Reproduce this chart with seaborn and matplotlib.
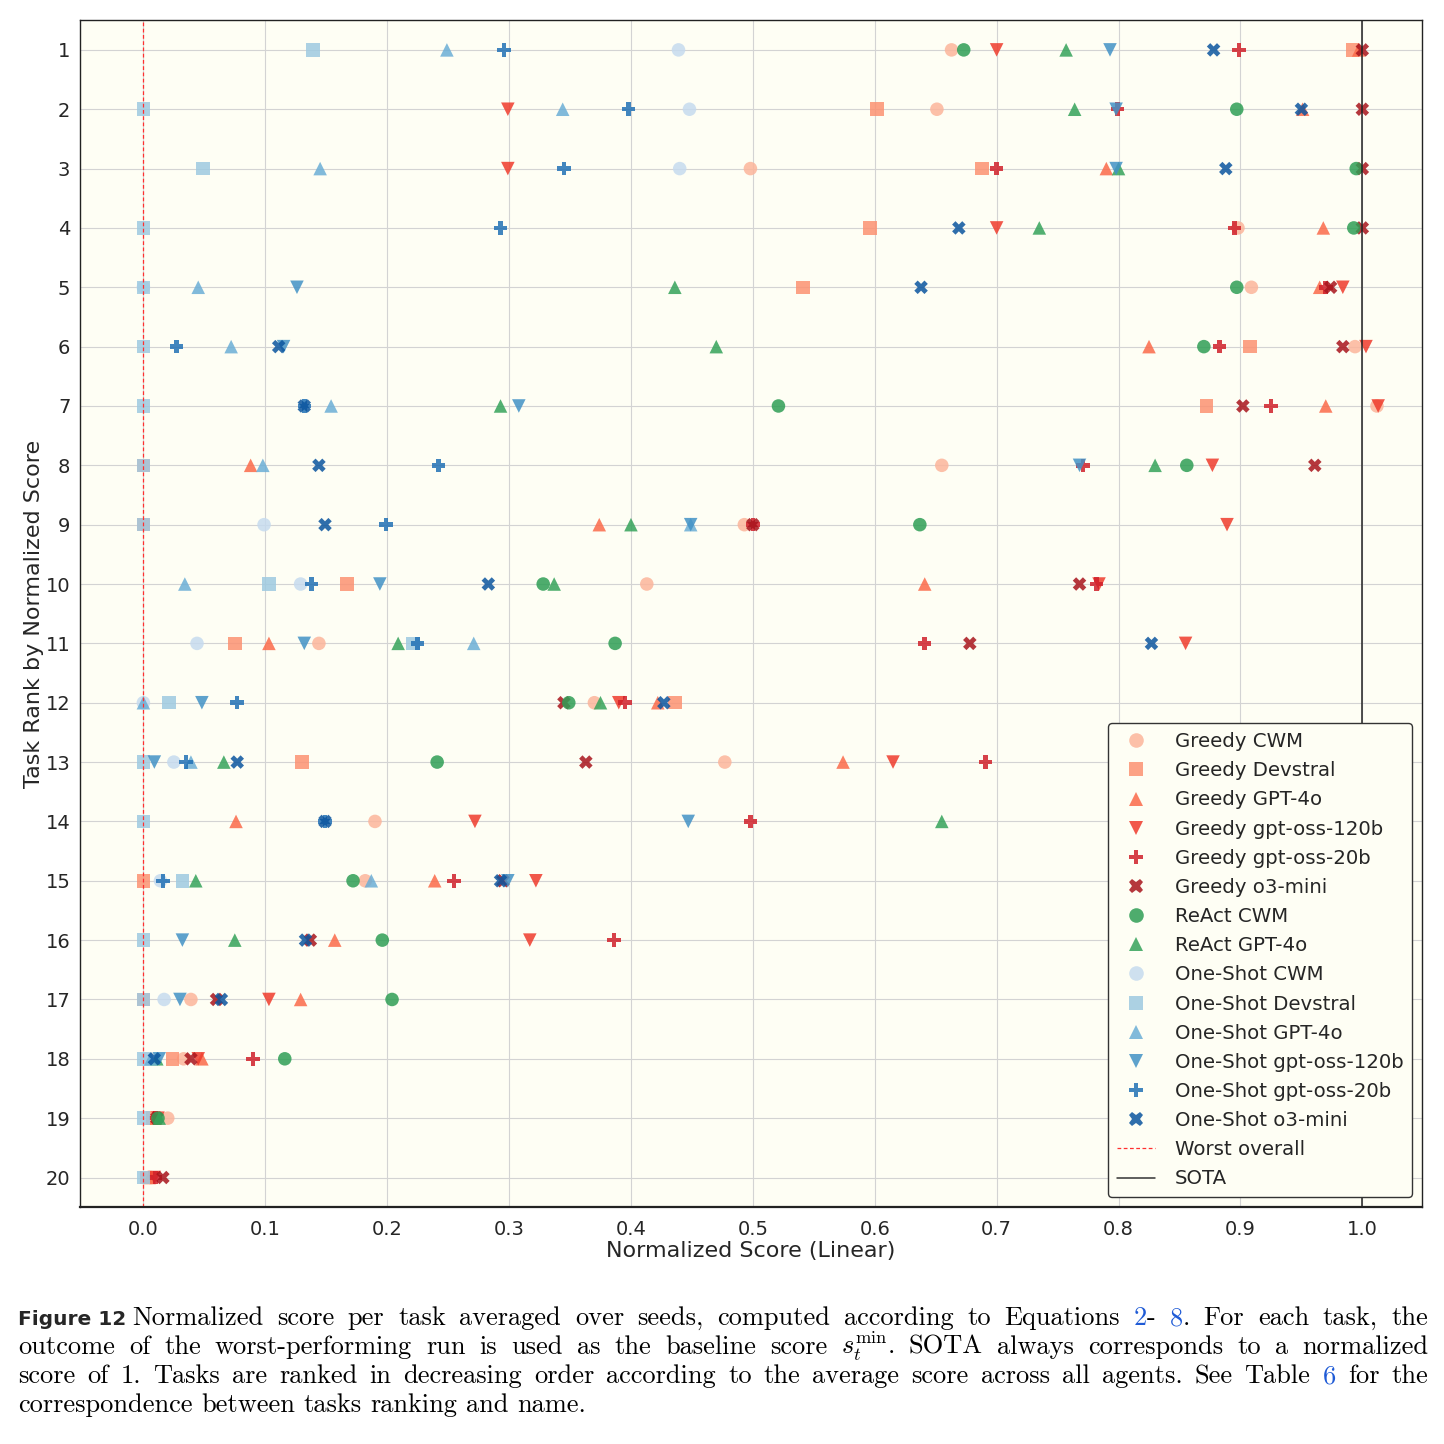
import numpy as np
import pandas as pd
import seaborn as sns
import matplotlib
matplotlib.use('Agg')
import matplotlib.pyplot as plt
from matplotlib.lines import Line2D

nan = np.nan
ranks = list(range(1, 21))

# normalized score per task (rank 1..20); nan = no point shown
greedy_cwm = [0.663, 0.651, 0.498, 0.898, 0.909, 0.994, 1.012, 0.655, 0.493, 0.413, 0.144, 0.370, 0.477, 0.190, 0.182, nan, 0.039, 0.033, 0.020, 0.006]
greedy_devstral = [0.992, 0.602, 0.688, 0.596, 0.541, 0.908, 0.872, 0.0, 0.0, 0.167, 0.075, 0.436, 0.130, nan, 0.0, nan, 0.0, 0.024, 0.008, 0.003]
greedy_gpt4o = [0.997, 0.951, 0.790, 0.968, 0.965, 0.825, 0.970, 0.088, 0.374, 0.641, 0.103, 0.422, 0.574, 0.076, 0.239, 0.157, 0.129, 0.048, 0.010, 0.005]
greedy_120b = [0.700, 0.299, 0.299, 0.700, 0.984, 1.003, 1.013, 0.877, 0.889, 0.784, 0.855, 0.390, 0.615, 0.272, 0.322, 0.317, 0.103, 0.045, 0.012, 0.009]
greedy_20b = [0.899, 0.799, 0.700, 0.895, 0.970, 0.883, 0.925, 0.771, 0.500, 0.782, 0.641, 0.395, 0.691, 0.498, 0.255, 0.386, nan, 0.090, 0.010, 0.010]
greedy_o3 = [1.0, 1.0, 1.0, 1.0, 0.974, 0.984, 0.902, 0.961, 0.500, 0.768, 0.678, 0.345, 0.363, nan, 0.295, 0.137, 0.060, 0.039, 0.011, 0.016]
react_cwm = [0.673, 0.897, 0.995, 0.993, 0.897, 0.870, 0.521, 0.856, 0.637, 0.328, 0.387, 0.349, 0.241, nan, 0.172, 0.196, 0.204, 0.116, 0.012, nan]
react_gpt4o = [0.757, 0.764, 0.800, 0.735, 0.436, 0.470, 0.293, 0.830, 0.400, 0.337, 0.209, 0.375, 0.066, 0.655, 0.043, 0.075, nan, 0.011, 0.013, nan]
os_cwm = [0.439, 0.448, 0.440, nan, 0.0, nan, nan, nan, 0.099, 0.129, 0.044, 0.0, 0.025, nan, 0.014, nan, 0.017, 0.003, nan, nan]
os_devstral = [0.139, 0.0, 0.049, 0.0, 0.0, 0.0, 0.0, 0.0, 0.0, 0.103, 0.221, 0.021, 0.0, 0.0, 0.032, 0.0, 0.0, 0.0, 0.0, 0.0]
os_gpt4o = [0.249, 0.344, 0.145, nan, 0.045, 0.072, 0.154, 0.098, 0.449, 0.034, 0.271, 0.0, 0.039, nan, 0.187, nan, nan, 0.006, nan, nan]
os_120b = [0.793, 0.798, 0.798, nan, 0.126, 0.115, 0.308, 0.768, 0.449, 0.194, 0.132, 0.048, 0.009, 0.447, 0.299, 0.032, 0.030, 0.013, nan, nan]
os_20b = [0.296, 0.398, 0.345, 0.293, nan, 0.027, 0.132, 0.242, 0.199, 0.138, 0.225, 0.077, 0.035, 0.149, 0.016, nan, nan, nan, nan, nan]
os_o3 = [0.878, 0.950, 0.888, 0.669, 0.638, 0.111, 0.132, 0.144, 0.149, 0.283, 0.827, 0.427, 0.077, 0.149, 0.293, 0.133, 0.064, 0.009, nan, nan]

series = [
    ("Greedy CWM", greedy_cwm, "#fcb59b", "o"),
    ("Greedy Devstral", greedy_devstral, "#fc9272", "s"),
    ("Greedy GPT-4o", greedy_gpt4o, "#fb6a4a", "^"),
    ("Greedy gpt-oss-120b", greedy_120b, "#ef3b2c", "v"),
    ("Greedy gpt-oss-20b", greedy_20b, "#d0202a", "P"),
    ("Greedy o3-mini", greedy_o3, "#a8141c", "X"),
    ("ReAct CWM", react_cwm, "#2f9e55", "o"),
    ("ReAct GPT-4o", react_gpt4o, "#35a35a", "^"),
    ("One-Shot CWM", os_cwm, "#c6dbef", "o"),
    ("One-Shot Devstral", os_devstral, "#9ecae1", "s"),
    ("One-Shot GPT-4o", os_gpt4o, "#6baed6", "^"),
    ("One-Shot gpt-oss-120b", os_120b, "#4292c6", "v"),
    ("One-Shot gpt-oss-20b", os_20b, "#2171b5", "P"),
    ("One-Shot o3-mini", os_o3, "#0b559f", "X"),
]

rows = []
for name, vals, _, _ in series:
    for r, v in zip(ranks, vals):
        rows.append((r, v, name))
df = pd.DataFrame(rows, columns=['rank', 'score', 'agent']).dropna()
palette = {s[0]: s[2] for s in series}
markers = {s[0]: s[3] for s in series}

sns.set_style("whitegrid")
plt.rcParams['font.family'] = ['DejaVu Sans']
plt.rcParams['mathtext.fontset'] = 'cm'

fig = plt.figure(figsize=(14.44, 14.44), dpi=100)
ax = fig.add_axes([0.0554, 0.164, 0.9294, 0.822])
ax.set_facecolor('#fefef4')

sns.scatterplot(data=df, x='score', y='rank', hue='agent', style='agent',
                palette=palette, markers=markers, s=95, alpha=0.85,
                linewidth=0, legend=False, ax=ax)

ax.axvline(0, color='#ff3030', ls=(0, (3, 2)), lw=0.9)
ax.axvline(1.0, color='#222222', lw=1.1)

ax.set_xlim(-0.052, 1.049)
ax.set_ylim(20.5, 0.5)
ax.set_yticks(ranks)
ax.set_yticklabels([str(r) for r in ranks])
xt = np.round(np.arange(0, 1.01, 0.1), 1)
ax.set_xticks(xt)
ax.set_xticklabels([f'{v:.1f}' for v in xt])
ax.tick_params(labelsize=14, length=0)
ax.tick_params(axis='x', pad=9)
ax.tick_params(axis='y', pad=7)
ax.grid(True, color='#d3d3d3', lw=0.8)
for sp in ax.spines.values():
    sp.set_color('#222222')
    sp.set_linewidth(1.0)
ax.spines['bottom'].set_linewidth(1.6)
ax.set_xlabel('Normalized Score (Linear)', fontsize=16, labelpad=2)
ax.set_ylabel('Task Rank by Normalized Score', fontsize=16, labelpad=1)

handles = [Line2D([], [], ls='', marker=m, color=c, markersize=10.5, alpha=0.85,
                  markeredgewidth=0, label=n) for n, _, c, m in series]
handles.append(Line2D([], [], color='#ff3030', ls=(0, (3, 2)), lw=0.9, label='Worst overall'))
handles.append(Line2D([], [], color='#333333', lw=1.1, label='SOTA'))
leg = ax.legend(handles=handles, loc='lower right', fontsize=14.2, frameon=True,
                framealpha=1, facecolor='#fefef4', edgecolor='#333333',
                labelspacing=0.515, handlelength=1.9, handletextpad=1.0,
                borderpad=0.45, borderaxespad=0.5)

# caption, justified word by word
cap_font = ['cmr10', 'DejaVu Serif']
cap_size = 19
blue = '#1f5bd6'
W = 1444
renderer = fig.canvas.get_renderer()


def put_line(y_px, words, x0, x1, justify=True):
    groups = []
    for word in words:
        pieces = []
        for s, c in word:
            t = fig.text(0, 1 - y_px / W, s, color=c, fontsize=cap_size,
                         family=cap_font, va='baseline', ha='left')
            pieces.append((t, t.get_window_extent(renderer).width))
        groups.append(pieces)
    widths = [sum(w for _, w in g) for g in groups]
    if justify and len(groups) > 1:
        gap = (x1 - x0 - sum(widths)) / (len(groups) - 1)
    else:
        gap = cap_size * 1.389 * 0.33
    x = x0
    for g in groups:
        for t, w in g:
            t.set_x(x / W)
            x += w
        x += gap


def words_of(text, color='black'):
    return [[(w, color)] for w in text.split()]


fig.text(18 / W, 1 - 1325 / W, 'Figure 12', fontsize=14.5, fontweight='bold',
         family='DejaVu Sans', va='baseline', ha='left')
put_line(1325, words_of('Normalized score per task averaged over seeds, computed according to Equations')
         + [[('2', blue), ('-', 'black')], [('8', blue), ('.', 'black')]]
         + words_of('For each task, the'), 132, 1428)
put_line(1354, words_of('outcome of the worst-performing run is used as the baseline score')
         + [[('$s_t^{\\mathrm{min}}$.', 'black')]]
         + words_of('SOTA always corresponds to a normalized'), 18, 1428)
put_line(1383, words_of('score of 1. Tasks are ranked in decreasing order according to the average score across all agents. See Table')
         + [[('6', blue)]] + words_of('for the'), 18, 1428)
put_line(1412, words_of('correspondence between tasks ranking and name.'), 18, 1428, justify=False)

fig.savefig('out.png', dpi=100)
